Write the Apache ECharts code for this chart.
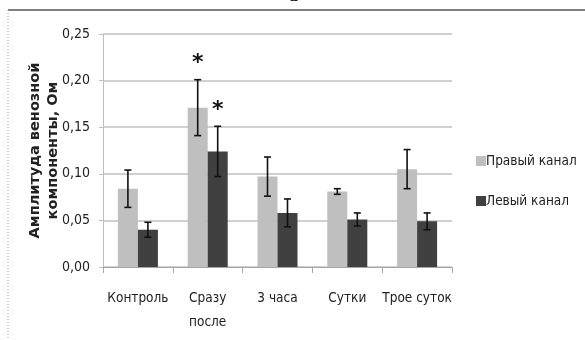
<!DOCTYPE html>
<html><head><meta charset="utf-8">
<script src="https://cdn.jsdelivr.net/npm/echarts@6/dist/echarts.min.js"></script>
<style>html,body{margin:0;padding:0;background:#fff}#c{width:585px;height:340px}</style>
</head><body><div id="c"></div>
<script>
var categories = ['Контроль', 'Сразу\nпосле', '3 часа', 'Сутки', 'Трое суток'];
var seriesNames = ['Правый канал', 'Левый канал'];
var rightValues = [0.084, 0.171, 0.097, 0.081, 0.105];
var rightErrors = [0.020, 0.030, 0.021, 0.003, 0.021];
var leftValues = [0.040, 0.124, 0.058, 0.051, 0.049];
var leftErrors = [0.008, 0.027, 0.015, 0.007, 0.009];
var rightStars = [null, '*', null, null, null];
var leftStars = [null, '*', null, null, null];
var yTicks = [0, 0.05, 0.10, 0.15, 0.20, 0.25];

var FONT = '"DejaVu Sans Condensed", "Liberation Sans Narrow", sans-serif';
var BARW = 20;

function errData(vals, errs, stars) {
  return vals.map(function (v, i) { return [i, v, errs[i], stars[i] ? 1 : 0]; });
}
function errRender(side) {
  return function (params, api) {
    var i = api.value(0), v = api.value(1), e = api.value(2), s = api.value(3);
    var c = api.coord([i, v]);
    var x = c[0] + side * BARW / 2;
    var top = api.coord([i, v + e])[1];
    var bot = api.coord([i, v - e])[1];
    var cap = 3.5;
    var st = { stroke: '#111', lineWidth: 1.6 };
    var kids = [
      { type: 'line', shape: { x1: x, y1: top, x2: x, y2: bot }, style: st },
      { type: 'line', shape: { x1: x - cap, y1: top, x2: x + cap, y2: top }, style: st },
      { type: 'line', shape: { x1: x - cap, y1: bot, x2: x + cap, y2: bot }, style: st }
    ];
    if (s) {
      kids.push({ type: 'text', style: { text: '*', x: x, y: top - 5, align: 'center', verticalAlign: 'bottom', font: 'bold 22px "DejaVu Sans", sans-serif', fill: '#111' } });
    }
    return { type: 'group', children: kids };
  };
}

var chart = echarts.init(document.getElementById('c'));
chart.setOption({
  animation: false,
  backgroundColor: '#fff',
  grid: { left: 103, right: 133, top: 34, bottom: 73 },
  legend: {
    orient: 'vertical', left: 471, top: 149,
    itemWidth: 10, itemHeight: 10, itemGap: 26,
    icon: 'rect',
    textStyle: { fontFamily: FONT, fontSize: 13.5, color: '#222', padding: [0, 0, 0, -5] },
    data: seriesNames
  },
  xAxis: {
    type: 'category', data: categories,
    axisLine: { lineStyle: { color: '#a6a6a6', width: 1.2 } },
    axisTick: { show: true, length: 6, lineStyle: { color: '#a6a6a6' } },
    axisLabel: { interval: 0, fontFamily: FONT, fontSize: 13.5, color: '#222', margin: 19, lineHeight: 24 }
  },
  yAxis: {
    type: 'value', min: 0, max: 0.25, interval: 0.05,
    name: 'Амплитуда венозной\nкомпоненты, Ом',
    nameLocation: 'middle', nameRotate: 90, nameGap: 41, nameMoveOverlap: false,
    nameTextStyle: { fontFamily: '"DejaVu Sans", sans-serif', fontWeight: 'bold', fontSize: 14.5, color: '#222', lineHeight: 18 },
    axisLine: { show: true, lineStyle: { color: '#bfbfbf' } },
    axisTick: { show: true, length: 4, lineStyle: { color: '#bfbfbf' } },
    splitLine: { lineStyle: { color: '#c0c0c0', width: 1.5 } },
    axisLabel: {
      fontFamily: FONT, fontSize: 14, color: '#222', margin: 13,
      formatter: function (v) {
        var idx = yTicks.findIndex(function (t) { return Math.abs(t - v) < 1e-9; });
        return (idx >= 0 ? yTicks[idx] : v).toFixed(2).replace('.', ',');
      }
    }
  },
  series: [
    { name: seriesNames[0], type: 'bar', data: rightValues, barWidth: BARW, barGap: '0%', itemStyle: { color: '#bfbfbf' } },
    { name: seriesNames[1], type: 'bar', data: leftValues, barWidth: BARW, itemStyle: { color: '#404040' } },
    { type: 'custom', renderItem: errRender(-1), data: errData(rightValues, rightErrors, rightStars), z: 5, silent: true },
    { type: 'custom', renderItem: errRender(1), data: errData(leftValues, leftErrors, leftStars), z: 5, silent: true }
  ],
  graphic: [
    { type: 'line', shape: { x1: 8, y1: 10, x2: 585, y2: 10 }, style: { stroke: '#7f7f7f', lineWidth: 2 } },
    { type: 'line', shape: { x1: 8, y1: 10, x2: 8, y2: 340 }, style: { stroke: '#999', lineWidth: 1, lineDash: [1, 2] } },
    { type: 'text', left: 289, top: -13, style: { text: 'а', font: 'bold 18px "Liberation Serif", serif', fill: '#111' } }
  ]
});
</script></body></html>
